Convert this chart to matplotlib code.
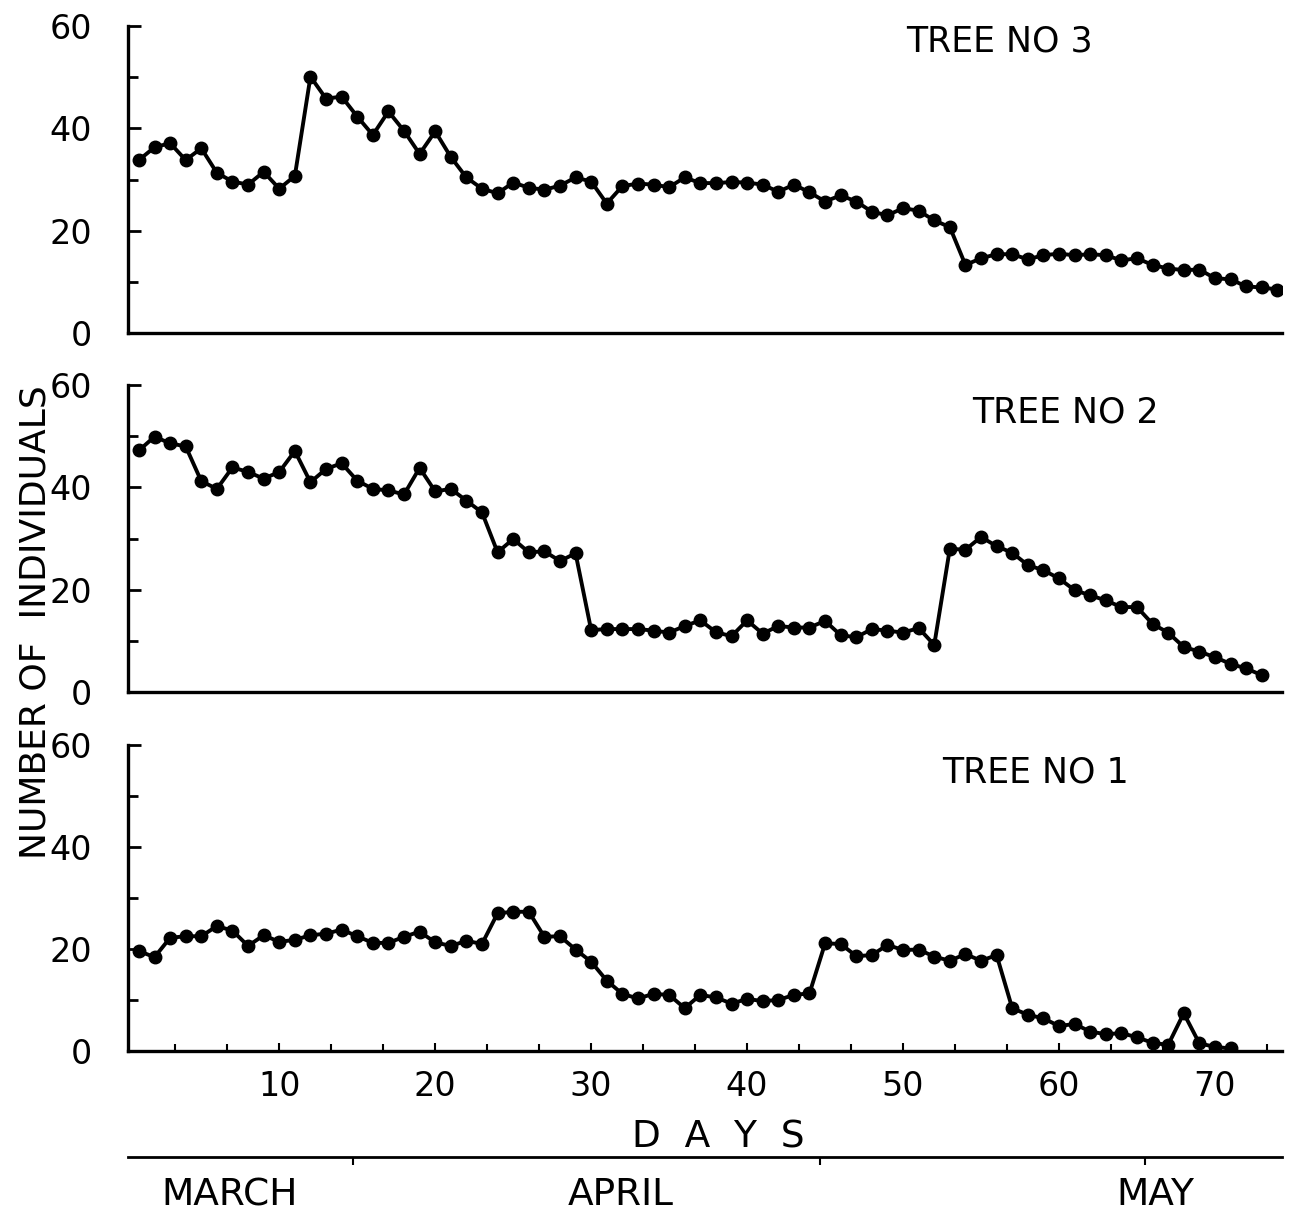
import numpy as np
import matplotlib
matplotlib.use("Agg")
import matplotlib.pyplot as plt
import matplotlib.ticker as ticker
import matplotlib.transforms as mtransforms

# counts, one value per day (day 1 = first point)
tree3 = [33.8, 36.3, 37.1, 33.8, 36.1, 31.3, 29.6, 29.0, 31.5, 28.2,
         30.7, 50.1, 45.8, 46.2, 42.3, 38.7, 43.3, 39.5, 35.0, 39.4,
         34.4, 30.4, 28.2, 27.3, 29.4, 28.4, 28.0, 28.8, 30.4, 29.6,
         25.3, 28.7, 29.2, 29.0, 28.5, 30.4, 29.3, 29.3, 29.5, 29.4,
         29.0, 27.6, 29.0, 27.5, 25.7, 26.9, 25.7, 23.7, 23.0, 24.4,
         23.9, 22.0, 20.7, 13.3, 14.6, 15.4, 15.4, 14.4, 15.2, 15.5,
         15.2, 15.4, 15.2, 14.2, 14.6, 13.3, 12.6, 12.3, 12.4, 10.7,
         10.5, 9.1, 8.9, 8.5]

tree2 = [47.2, 49.9, 48.6, 48.0, 41.2, 39.7, 43.9, 43.0, 41.7, 43.0,
         47.1, 41.0, 43.6, 44.7, 41.3, 39.7, 39.4, 38.6, 43.8, 39.2,
         39.7, 37.4, 35.1, 27.3, 29.9, 27.3, 27.5, 25.6, 27.1, 12.1,
         12.3, 12.3, 12.3, 12.0, 11.6, 12.9, 14.0, 11.7, 10.9, 14.0,
         11.4, 12.9, 12.6, 12.6, 13.9, 11.1, 10.7, 12.3, 12.0, 11.6,
         12.5, 9.2, 28.0, 27.8, 30.3, 28.5, 27.2, 24.8, 23.8, 22.2,
         19.9, 18.9, 17.9, 16.6, 16.6, 13.3, 11.6, 8.8, 7.9, 6.8,
         5.5, 4.6, 3.3]

tree1 = [19.6, 18.4, 22.2, 22.5, 22.5, 24.5, 23.6, 20.6, 22.7, 21.4,
         21.8, 22.7, 23.0, 23.8, 22.5, 21.2, 21.2, 22.4, 23.4, 21.3,
         20.6, 21.6, 21.0, 27.0, 27.3, 27.3, 22.4, 22.5, 19.9, 17.5,
         13.8, 11.2, 10.3, 11.2, 11.0, 8.4, 11.0, 10.5, 9.3, 10.2,
         9.8, 10.0, 11.0, 11.3, 21.1, 21.0, 18.6, 18.8, 20.8, 19.8,
         19.9, 18.5, 17.7, 19.0, 17.7, 18.8, 8.4, 7.1, 6.4, 4.9,
         5.3, 3.8, 3.3, 3.5, 2.7, 1.6, 1.2, 7.4, 1.5, 0.8,
         0.5]

panels = [("TREE NO 3", tree3), ("TREE NO 2", tree2), ("TREE NO 1", tree1)]
label_pos = [(56.2, 56.9), (60.4, 54.7), (58.5, 54.7)]

month_names = ["MARCH", "APRIL", "MAY"]
month_centres = [6.8, 31.9, 66.2]
month_bounds = [14.7, 44.7, 65.5]

narrow = ["Liberation Sans Narrow", "DejaVu Sans"]

fig = plt.figure(figsize=(12.93, 12.18), dpi=100)

W, H = 1293, 1218
left = 128 / W
width = (1282 - 128) / W
# (bottom px, top px) for each panel
boxes = [(333, 26), (692, 385), (1051, 745)]

for i, ((name, ys), (lx, ly), (pb, pt)) in enumerate(zip(panels, label_pos, boxes)):
    ax = fig.add_axes([left, 1 - pb / H, width, (pb - pt) / H])
    days = np.arange(1, len(ys) + 1)
    ax.plot(days, ys, color="black", linewidth=2.8,
            marker="o", markersize=9)

    ax.set_xlim(0.3, 74.3)
    ax.set_ylim(0, 60)

    for side in ("top", "right"):
        ax.spines[side].set_visible(False)
    for side in ("left", "bottom"):
        ax.spines[side].set_linewidth(2.4)

    ax.yaxis.set_major_locator(ticker.MultipleLocator(20))
    ax.yaxis.set_minor_locator(ticker.MultipleLocator(10))
    ax.tick_params(axis="y", which="major", direction="in", length=9,
                   width=2, labelsize=24, pad=26)
    ax.tick_params(axis="y", which="minor", direction="in", length=7,
                   width=2)

    if i < 2:
        ax.set_xticks([])
    else:
        ax.xaxis.set_major_locator(ticker.MultipleLocator(10))
        ax.xaxis.set_minor_locator(ticker.MultipleLocator(10 / 3))
        ax.xaxis.set_major_formatter(ticker.FuncFormatter(
            lambda x, _: "" if x <= 0 else str(int(x))))
        ax.tick_params(axis="x", which="major", direction="in", length=6,
                       width=1.5, labelsize=24, pad=14)
        ax.tick_params(axis="x", which="minor", direction="in", length=5,
                       width=1.5)

    ax.text(lx, ly, name, fontsize=25, ha="center", va="center")

# month bar under the day axis
mbar = fig.add_axes([left, 1 - 1157 / H, width, 0.001])
mbar.set_xlim(0.3, 74.3)
for side in ("top", "right", "left"):
    mbar.spines[side].set_visible(False)
mbar.spines["bottom"].set_linewidth(2)
mbar.set_yticks([])
mbar.set_xticks(month_bounds)
mbar.set_xticklabels([])
mbar.tick_params(axis="x", direction="out", length=6, width=1.5)
trans = mtransforms.blended_transform_factory(mbar.transData, fig.transFigure)
for name, cx in zip(month_names, month_centres):
    mbar.text(cx, 1 - 1195 / H, name, transform=trans, fontsize=27,
              family=narrow, ha="center", va="center")

fig.text(718 / W, 1 - 1138 / H, "D  A  Y  S", fontsize=27,
         family=narrow, ha="center", va="center")
fig.text(36 / W, 1 - 622 / H, "NUMBER OF  INDIVIDUALS", fontsize=26,
         family=narrow, rotation=90, ha="center", va="center")

plt.savefig("out.png", dpi=100)
